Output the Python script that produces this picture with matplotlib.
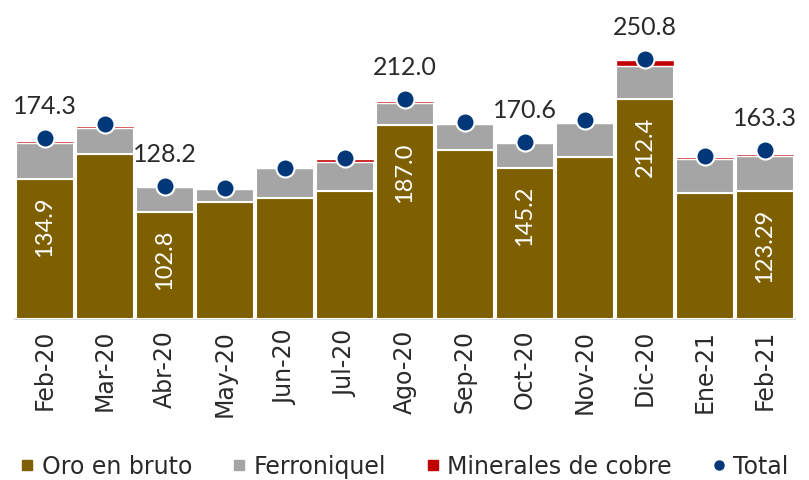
import matplotlib
matplotlib.use("Agg")
import matplotlib.pyplot as plt
from matplotlib.lines import Line2D
import numpy as np

plt.rcParams['font.family'] = ['DejaVu Sans']

months = ['Feb-20', 'Mar-20', 'Abr-20', 'May-20', 'Jun-20', 'Jul-20', 'Ago-20',
          'Sep-20', 'Oct-20', 'Nov-20', 'Dic-20', 'Ene-21', 'Feb-21']
oro = [134.9, 158.9, 102.8, 113.3, 116.4, 123.5, 187.0, 163.0, 145.2, 156.7, 212.4, 121.3, 123.29]
ferroniquel = [35.3, 25.0, 24.9, 12.5, 29.0, 28.3, 21.7, 25.5, 24.3, 32.7, 31.6, 32.7, 33.9]
cobre = [1.9, 2.3, 0.4, 0.4, 0.4, 2.2, 2.0, 0.4, 0.4, 0.4, 5.5, 2.0, 2.2]
total = [174.3, 188.5, 128.2, 126.6, 146.0, 155.3, 212.0, 189.7, 170.6, 191.9, 250.8, 157.5, 163.3]
oro_labels = ['134.9', None, '102.8', None, None, None, '187.0', None, '145.2', None, '212.4', None, '123.29']
total_labels = ['174.3', None, '128.2', None, None, None, '212.0', None, '170.6', None, '250.8', None, '163.3']

c_oro = '#7F6000'
c_fer = '#A5A5A5'
c_cob = '#C00000'
c_tot = '#003778'
txt = '#2a2a2a'
num_font = ['Lato', 'DejaVu Sans']

fig = plt.figure(figsize=(8.09, 4.81), dpi=100)
ax = fig.add_axes([15 / 809, 161 / 481, 780 / 809, 320 / 481])

x = np.arange(len(months))
oro_a = np.array(oro)
fer_a = np.array(ferroniquel)
cob_a = np.array(cobre)
w = 0.98
ax.bar(x, oro_a, width=w, color=c_oro, edgecolor='white', linewidth=1.5, zorder=2)
ax.bar(x, fer_a, bottom=oro_a, width=w, color=c_fer, edgecolor='white', linewidth=1.5, zorder=2)
ax.bar(x, cob_a, bottom=oro_a + fer_a, width=w, color=c_cob, edgecolor='white', linewidth=1.0, zorder=2)
ax.plot(x, total, linestyle='none', marker='o', markersize=13, color=c_tot,
        markeredgecolor='white', markeredgewidth=1.5, zorder=4, clip_on=False)

for i, lab in enumerate(oro_labels):
    if lab:
        ax.annotate(lab, xy=(x[i], oro[i]), xytext=(0, -12), textcoords='offset points',
                    rotation=90, ha='center', va='top', color='white', fontsize=17,
                    family=num_font, zorder=5)
for i, lab in enumerate(total_labels):
    if lab:
        ax.annotate(lab, xy=(x[i], total[i]), xytext=(0, 18), textcoords='offset points',
                    ha='center', va='baseline', color=txt, fontsize=18, family=num_font,
                    zorder=5, annotation_clip=False)

ax.set_xlim(-0.5, len(months) - 0.5)
ax.set_ylim(0, 320 / 1.037)
ax.set_xticks(x)
ax.set_xticklabels(months, rotation=90, fontsize=17, color=txt)
ax.tick_params(axis='x', length=0, pad=7)
ax.set_yticks([])
for s in ['top', 'right', 'left']:
    ax.spines[s].set_visible(False)
ax.spines['bottom'].set_color('#D9D9D9')
ax.spines['bottom'].set_linewidth(1.5)
ax.spines['bottom'].set_zorder(1)

handles = [
    Line2D([], [], linestyle='none', marker='s', markersize=7.5, color=c_oro),
    Line2D([], [], linestyle='none', marker='s', markersize=7.5, color=c_fer),
    Line2D([], [], linestyle='none', marker='s', markersize=7.5, color=c_cob),
    Line2D([], [], linestyle='none', marker='o', markersize=6.5, color=c_tot),
]
labels = ['Oro en bruto', 'Ferroniquel', 'Minerales de cobre', 'Total']
fig.legend(handles, labels, loc='center', bbox_to_anchor=(0.5, 14 / 481), ncol=4,
           frameon=False, fontsize=17, handlelength=0.6, handletextpad=0.3,
           columnspacing=1.7, labelcolor=txt, borderaxespad=0, borderpad=0)

fig.savefig('out.png', dpi=100)
